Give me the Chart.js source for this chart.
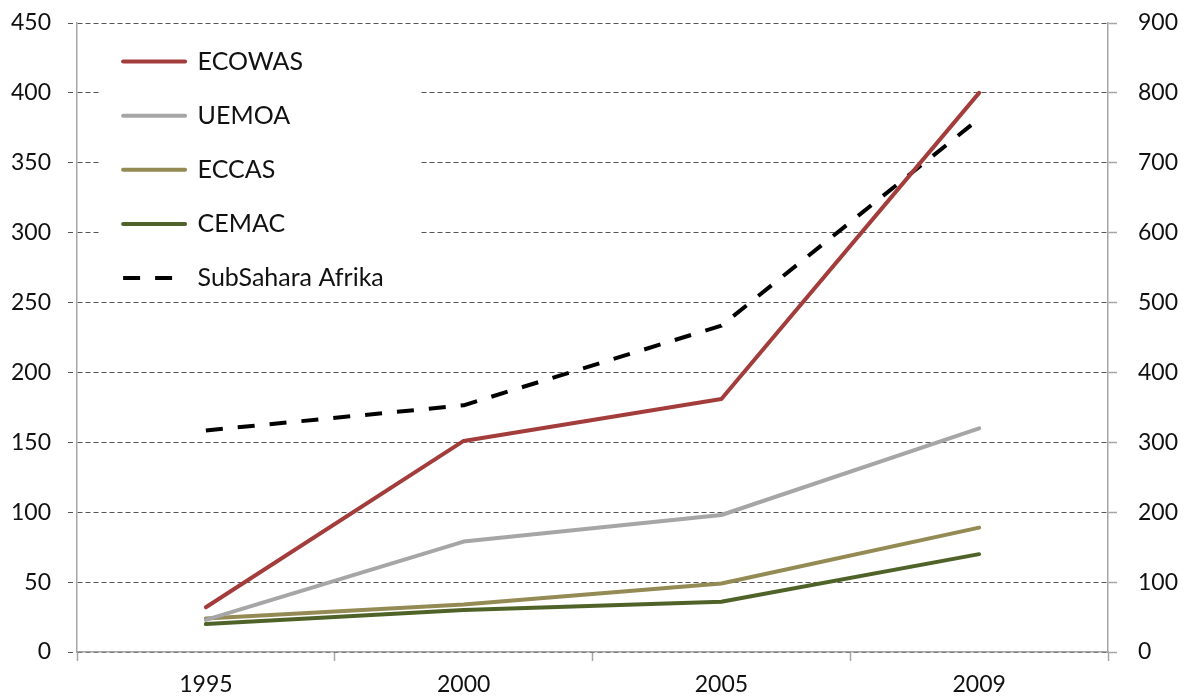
<!DOCTYPE html>
<html>
<head>
<meta charset="utf-8">
<script src="https://cdn.jsdelivr.net/npm/chart.js@4.4.1/dist/chart.umd.min.js"></script>
<style>
  body { margin: 0; background: #fff; }
  #box { width: 1184px; height: 698px; }
</style>
</head>
<body>
<div id="box"><canvas id="grafico"></canvas></div>
<script>
// dados
const anos = ['1995', '2000', '2005', '2009'];
const ecowas = [32, 151, 181, 400];
const uemoa = [23, 79, 98, 160];
const eccas = [24, 34, 49, 89];
const cemac = [20, 30, 36, 70];
const subSahara = [317, 353, 467, 763]; // eixo da direita
const ticksEsq = [0, 50, 100, 150, 200, 250, 300, 350, 400, 450];
const ticksDir = [0, 100, 200, 300, 400, 500, 600, 700, 800, 900];

const cinzaEixo = '#a6a6a6';
const fonteTick = { family: 'Lato', size: 23 };

function serie(label, dados, cor, eixo, tracejado) {
    return {
        label: label,
        data: dados,
        yAxisID: eixo,
        borderColor: cor,
        backgroundColor: cor,
        borderWidth: 4,
        borderDash: tracejado ? [17, 15] : [],
        borderCapStyle: tracejado ? 'butt' : 'round',
        borderJoinStyle: 'round',
        pointRadius: 0,
        tension: 0,
        fill: false
    };
}

// posição da legenda + fundo branco (esconde as linhas de grade atrás dela)
const fundoLegenda = {
    id: 'fundoLegenda',
    afterLayout(chart) {
        chart.legend.left += 17;
        chart.legend.top += 20;
    },
    beforeDatasetsDraw(chart) {
        const a = chart.chartArea;
        const ctx = chart.ctx;
        ctx.save();
        ctx.fillStyle = '#ffffff';
        ctx.fillRect(a.left + 23, a.top + 8, 321, 267);
        ctx.restore();
        chart.legend.draw(); // legenda por cima do fundo
    }
};

function semPadding(s) {
    s.paddingTop = 0;
    s.paddingBottom = 0;
}

new Chart(document.getElementById('grafico'), {
    type: 'line',
    data: {
        labels: anos,
        datasets: [
            serie('ECOWAS', ecowas, '#a33d3b', 'y', false),
            serie('UEMOA', uemoa, '#a6a6a6', 'y', false),
            serie('ECCAS', eccas, '#948a54', 'y', false),
            serie('CEMAC', cemac, '#4f6228', 'y', false),
            serie('SubSahara Afrika', subSahara, '#000000', 'y2', true)
        ]
    },
    plugins: [fundoLegenda],
    options: {
        responsive: true,
        maintainAspectRatio: false,
        animation: false,
        layout: { padding: { top: 23, left: 0, right: 0, bottom: 0 } },
        plugins: {
            tooltip: { enabled: false },
            legend: {
                position: 'chartArea',
                align: 'start',
                labels: {
                    font: { family: 'Lato', size: 25 },
                    color: '#111111',
                    usePointStyle: true,
                    pointStyleWidth: 62,
                    padding: 29.1,
                    generateLabels(chart) {
                        return chart.data.datasets.map((ds, i) => ({
                            text: ds.label,
                            fillStyle: ds.borderColor,
                            strokeStyle: ds.borderColor,
                            lineWidth: ds.borderWidth,
                            lineDash: ds.borderDash,
                            lineCap: ds.borderCapStyle,
                            pointStyle: 'line',
                            rotation: 0,
                            fontColor: '#111111',
                            hidden: false,
                            datasetIndex: i
                        }));
                    }
                }
            }
        },
        scales: {
            x: {
                type: 'category',
                offset: true,
                afterFit(s) { s.height = 46; s.paddingLeft = 0; s.paddingRight = 0; },
                border: { color: cinzaEixo, width: 1.5 },
                grid: { offset: true, drawOnChartArea: false, drawTicks: true, tickLength: 9, tickColor: cinzaEixo, tickWidth: 1.5 },
                ticks: { font: fonteTick, color: '#111111', padding: 10, maxRotation: 0 }
            },
            y: {
                position: 'left',
                min: 0,
                max: 450,
                afterFit(s) { s.width = 77; semPadding(s); },
                afterBuildTicks(s) { s.ticks = ticksEsq.map(v => ({ value: v })); },
                border: { color: cinzaEixo, width: 1.5, dash: [5, 3] },
                grid: {
                    color: '#555555',
                    lineWidth: 1,
                    tickLength: 9,
                    tickColor: '#555555',
                    tickBorderDash: [5, 3],
                    drawTicks: true
                },
                ticks: { font: fonteTick, color: '#111111', padding: 17 }
            },
            y2: {
                position: 'right',
                min: 0,
                max: 900,
                afterFit(s) { s.width = 76; semPadding(s); },
                afterBuildTicks(s) { s.ticks = ticksDir.map(v => ({ value: v })); },
                border: { color: cinzaEixo, width: 1.5 },
                grid: { drawOnChartArea: false, tickLength: 9, tickColor: cinzaEixo, tickWidth: 1.5 },
                ticks: { font: fonteTick, color: '#111111', padding: 21 }
            }
        }
    }
});
</script>
</body>
</html>
